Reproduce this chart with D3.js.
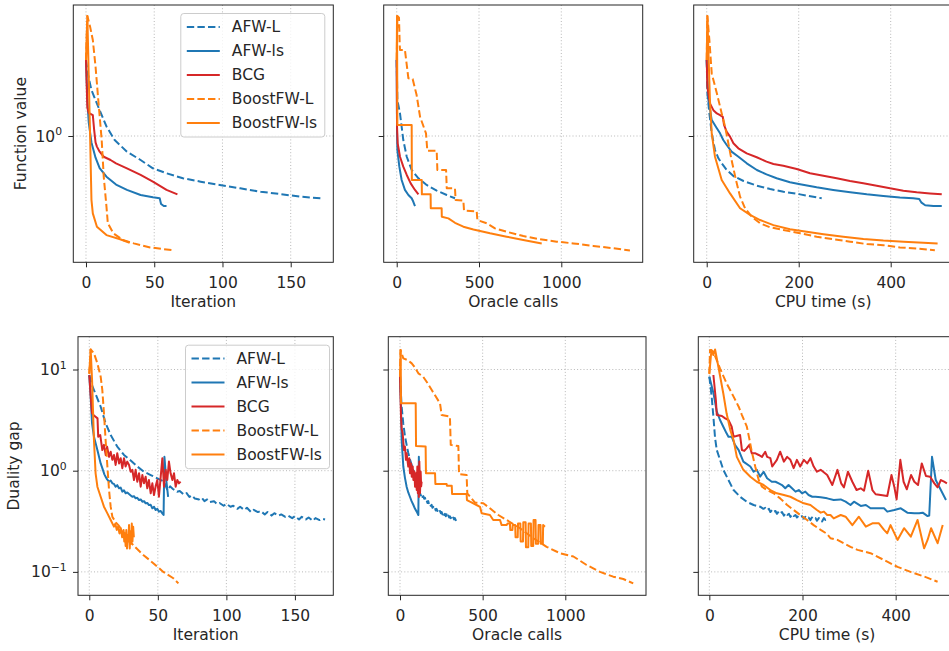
<!DOCTYPE html>
<html lang="en">
<head>
<meta charset="UTF-8" />
<script src="https://d3js.org/d3.v7.min.js"></script>
<title>Boosted FW convergence</title>
<style>
  body { margin: 0; background: #fff; }
  svg { font-family: "DejaVu Sans", sans-serif; }
</style>
</head>
<body>
<svg id="fig" width="949" height="651"></svg>
<script>
// legend order, also drawing order
const methods = ["AFW-L", "AFW-ls", "BCG", "BoostFW-L", "BoostFW-ls"];

// ---- function value vs iteration
const fvIterAFWL = [[0,3.49],[1,2.88],[4,2.13],[10,1.53],[15,1.17],[21,0.936],[30,0.773],[40,0.674],[49,0.588],[59,0.542],[71,0.499],[84,0.472],[98,0.447],[113,0.423],[128,0.4],[142,0.385],[157,0.369],[172,0.359]];
const fvIterAFWls = [[0,3.49],[1,1.81],[2,1.25],[4,0.9],[7,0.7],[10,0.59],[15,0.512],[22,0.45],[30,0.412],[40,0.379],[49,0.365],[54,0.359],[55,0.327],[57,0.316],[59,0.316]];
const fvIterBCG = [[0,3.49],[1,1.6],[2,1.46],[5,1.41],[6,1.1],[7,0.9],[8,0.84],[10,0.773],[13,0.711],[18,0.674],[22,0.638],[30,0.588],[40,0.527],[49,0.472],[59,0.412],[67,0.383]];
const fvIterBoostL = [[0,3.49],[1,7.2],[3,6.04],[5,4.85],[7,3.13],[9,1.81],[11.5,0.936],[13,0.512],[15,0.313],[16,0.238],[20,0.202],[27,0.181],[35,0.171],[47,0.16],[63,0.153]];
const fvIterBoostLs = [[0,3.49],[1,7.2],[2,2.7],[3,1.0],[4,0.35],[5,0.28],[8,0.225],[15,0.196],[25,0.183],[32,0.173]];

// ---- function value vs oracle calls
const fvCallsAFWL = [[0,3.49],[4,1.81],[20,1.45],[40,0.936],[61,0.711],[91,0.572],[132,0.499],[182,0.447],[243,0.407],[304,0.379],[354,0.359]];
const fvCallsAFWls = [[0,3.49],[2,1.045],[4,0.794],[16,0.604],[30,0.485],[50,0.412],[71,0.379],[91,0.359],[101,0.339],[111,0.316]];
const fvCallsBCG = [[0,3.49],[2,1.17],[6,0.887],[20,0.711],[40,0.604],[61,0.527],[85,0.459],[111,0.412],[132,0.383]];
const fvCallsBoostL = [[0,3.49],[4,7.2],[14,7.0],[18,4.6],[20,4.11],[50,4.11],[71,2.58],[97,2.55],[121,1.96],[142,1.37],[178,1.045],[186,0.785],[243,0.785],[247,0.572],[300,0.572],[304,0.423],[354,0.423],[358,0.349],[405,0.345],[409,0.293],[486,0.29],[490,0.251],[547,0.238],[597,0.219],[668,0.207],[769,0.193],[871,0.183],[972,0.176],[1073,0.171],[1194,0.164],[1316,0.158],[1417,0.152]];
const fvCallsBoostLs = [[0,3.49],[2,7.2],[4,1.2],[91,1.2],[92,0.485],[152,0.485],[153,0.383],[206,0.383],[207,0.305],[273,0.305],[274,0.265],[314,0.258],[354,0.24],[405,0.225],[466,0.215],[567,0.202],[668,0.191],[769,0.181],[881,0.171]];

// ---- function value vs CPU time
const fvTimeAFWL = [[0,3.49],[1.4,2.02],[5.8,1.45],[10.9,1.045],[18,0.794],[25.4,0.693],[32.6,0.638],[43.5,0.572],[58,0.518],[80,0.477],[109,0.442],[138,0.418],[167,0.4],[203,0.383],[250,0.359]];
const fvTimeAFWls = [[0,3.49],[1.4,2.65],[3.6,1.81],[10.9,1.3],[22,1.135],[29,1.045],[36,0.936],[43.5,0.863],[54,0.773],[69,0.711],[87,0.638],[109,0.572],[130,0.532],[152,0.499],[181,0.467],[203,0.452],[239,0.43],[275,0.412],[312,0.396],[348,0.383],[384,0.373],[420,0.364],[449,0.359],[462,0.355],[467,0.334],[475,0.32],[493,0.316],[511,0.316]];
const fvTimeBCG = [[0,3.49],[1.4,2.25],[7,1.71],[14.5,1.53],[22,1.45],[29,1.41],[35,1.37],[37.6,1.2],[43.5,1.07],[50.7,0.99],[58,0.887],[68.7,0.817],[87,0.752],[108.7,0.705],[130,0.656],[145,0.631],[166.5,0.614],[195.7,0.581],[224.6,0.542],[253.6,0.521],[282.6,0.499],[311.5,0.477],[340.4,0.459],[369.6,0.442],[398.5,0.423],[427.5,0.407],[456.5,0.396],[485.4,0.389],[511,0.383]];
const fvTimeBoostL = [[0,3.49],[1.4,7.2],[5.8,4.85],[10.9,2.8],[22,2.02],[32.6,1.45],[39.9,1.17],[47,0.887],[54,0.674],[63.6,0.485],[72.5,0.369],[83.3,0.305],[97.8,0.265],[116,0.238],[137.7,0.223],[166.7,0.213],[203,0.202],[239,0.191],[275,0.183],[312,0.176],[348,0.169],[384,0.166],[420,0.16],[456.5,0.157],[496,0.153]];
const fvTimeBoostLs = [[0,3.49],[1.4,7.2],[3.6,4.11],[7,1.81],[10.9,1.045],[18,0.711],[32.6,0.485],[50.7,0.389],[72.5,0.305],[94.3,0.273],[116,0.251],[145,0.231],[181,0.216],[217.5,0.207],[254,0.199],[297,0.191],[340.6,0.184],[384,0.179],[428,0.176],[471,0.173],[502,0.171]];

// ---- duality gap vs iteration
const gapIterAFWL = [[0,8.8],[2,7],[3.4,6.27],[8.3,4.29],[11.9,2.94],[15.6,2.25],[20.4,1.73],[25.3,1.43],[30.2,1.26],[35,1.1],[39.9,0.977],[44.8,0.906],[49.6,0.841],[54.5,0.78],[57,0.64],[59,0.7],[61,0.66],[64,0.62],[66,0.63],[69,0.58],[71,0.6],[73,0.55],[75,0.57],[77,0.53],[80,0.52],[82,0.54],[84,0.5],[86,0.52],[88,0.49],[91,0.5],[93,0.47],[95,0.48],[98,0.45],[100,0.47],[103,0.44],[105,0.45],[108,0.42],[110,0.44],[113,0.41],[115,0.43],[118,0.39],[120,0.41],[123,0.39],[125,0.4],[128,0.37],[130,0.39],[133,0.36],[135,0.38],[138,0.36],[140,0.37],[143,0.35],[145,0.36],[148,0.34],[150,0.355],[153,0.33],[155,0.35],[158,0.33],[160,0.345],[163,0.32],[165,0.34],[168,0.325],[170,0.335],[172,0.33]];
const gapIterAFWls = [[0,8.8],[1,5.4],[2,2.94],[3.4,2.17],[5.9,1.6],[8.3,1.18],[9.5,1.06],[11,0.92],[11.9,0.873],[13,0.82],[14.4,0.778],[15.6,0.8],[16.8,0.75],[18,0.74],[19.2,0.695],[20.4,0.72],[21.7,0.67],[22.9,0.68],[24.1,0.621],[25.3,0.64],[26.5,0.598],[27.7,0.61],[29,0.588],[30.2,0.57],[31.4,0.553],[32.6,0.56],[33.8,0.533],[35,0.54],[36.3,0.513],[37.5,0.52],[38.7,0.494],[40,0.5],[41.1,0.476],[42.3,0.48],[43.5,0.458],[44.8,0.46],[46,0.425],[47.2,0.44],[48.4,0.409],[49.6,0.42],[50.8,0.394],[52,0.4],[53.3,0.379],[54.2,0.365],[54.8,1.37],[56.2,0.8],[57.5,0.55]];
const gapIterBCG = [[0,8.8],[1,5.5],[2,3.7],[3,3.55],[6,3.29],[6.5,2.17],[8,2.25],[9.5,1.6],[10.7,1.8],[12,1.43],[13,1.73],[14.4,1.37],[15.6,1.54],[16.8,1.28],[18,1.43],[19.2,1.14],[20.4,1.49],[21.7,1.18],[22.9,1.33],[24.1,1.06],[25.3,1.33],[26.5,1.1],[27.7,1.23],[29,1.14],[30.2,0.977],[31.4,1.02],[32.6,0.809],[33.8,1.02],[35,0.778],[36.3,0.942],[37.5,0.695],[38.7,0.906],[39.9,0.75],[41.1,0.873],[42.3,0.67],[43.5,0.809],[44.8,0.598],[46,0.75],[47.2,0.575],[48.4,0.7],[49.6,0.809],[50.8,0.553],[52.1,0.873],[53.3,1.33],[54.5,0.695],[55.7,1.02],[56.9,0.809],[58.1,1.23],[59.3,0.942],[60.6,0.809],[61.8,0.942],[63,0.695],[64.2,0.809],[65.4,0.75],[66.6,0.78]];
const gapIterBoostL = [[0,9],[1,15.8],[3.4,14.5],[5.9,11.5],[8.3,8.49],[9.5,6.27],[10.7,3.69],[11.9,2.01],[13.2,1.1],[14.4,0.644],[15.6,0.441],[16.8,0.351],[19.2,0.31],[21.2,0.29],[26,0.235],[32,0.184],[39.4,0.147],[46.7,0.122],[54,0.1],[61.3,0.0865],[65,0.077]];
const gapIterBoostLs = [[0,9.17],[1,15.8],[2,8],[3.4,2.01],[4.6,0.942],[5.9,0.695],[8.3,0.553],[10.7,0.441],[13.2,0.379],[15.6,0.326],[18,0.28],[19,0.3],[20,0.26],[21,0.28],[22,0.24],[23,0.27],[24,0.22],[25,0.26],[25.5,0.2],[26,0.24],[26.5,0.18],[27,0.26],[27.5,0.17],[28,0.23],[28.5,0.2],[29,0.29],[29.5,0.17],[30,0.25],[30.5,0.19],[31,0.3],[31.5,0.2],[32,0.28],[32.5,0.22]];

// ---- duality gap vs oracle calls
const gapCallsAFWL = [[0,8.8],[4,6.5],[10,4.3],[20,2.9],[30,2.2],[40,1.8],[50,1.5],[60,1.3],[70,1.15],[81,1.0],[91,0.9],[101,0.83],[111,0.78],[117,0.62],[121,0.6],[126,0.57],[131,0.59],[136,0.55],[141,0.56],[146,0.53],[151,0.54],[156,0.5],[161,0.51],[166,0.48],[171,0.5],[176,0.46],[181,0.47],[186,0.45],[191,0.46],[196,0.43],[201,0.44],[206,0.42],[211,0.43],[216,0.405],[221,0.42],[226,0.4],[231,0.41],[236,0.39],[242,0.4],[247,0.38],[252,0.39],[257,0.37],[262,0.385],[267,0.365],[272,0.375],[277,0.355],[282,0.37],[287,0.35],[292,0.36],[297,0.345],[302,0.355],[307,0.34],[312,0.35],[317,0.335],[322,0.345],[327,0.33],[332,0.34],[337,0.325],[343,0.335]];
const gapCallsAFWls = [[0,8.8],[6,4.3],[10,2.0],[20,1.1],[30,0.85],[40,0.695],[50,0.61],[60,0.553],[70,0.5],[81,0.458],[91,0.42],[101,0.394],[111,0.365],[114,1.37],[118,0.7],[121,0.6]];
const gapCallsBCG = [[0,8.8],[6,3.5],[10,2.6],[16,2.34],[24,1.6],[30,1.73],[36,1.28],[40,1.49],[50,1.1],[56.5,1.33],[60.5,0.942],[67,1.18],[71,0.873],[77,1.1],[81,0.809],[87,0.98],[91,0.695],[97,0.942],[101,0.644],[105,1.1],[108,0.6],[111,0.75],[114,0.55],[117,1.23],[121,0.598],[125,0.977],[128,0.7],[131,0.78]];
const gapCallsBoostL = [[0,8.5],[3,15.6],[20,12.9],[50,12.3],[71,11.5],[90,10.5],[111,9.17],[140,8.5],[161,7.57],[192,6.27],[242,4.63],[252,3.55],[302,3.42],[307,1.8],[353,1.75],[357,0.927],[403,0.906],[407,0.598],[454,0.483],[504,0.476],[544,0.425],[595,0.365],[645,0.326],[726,0.27],[807,0.215],[887,0.177],[968,0.153],[1049,0.142],[1129,0.117],[1210,0.1],[1290,0.0897],[1351,0.085],[1411,0.077]];
const gapCallsBoostLs = [[0,8.5],[4,15.6],[6,4.63],[95,4.63],[97,1.75],[155,1.73],[157,0.942],[212,0.942],[214,0.74],[282,0.74],[284,0.71],[313,0.71],[315,0.59],[403,0.59],[405,0.513],[423,0.494],[463,0.458],[484,0.44],[494,0.38],[544,0.365],[564,0.326],[605,0.326],[615,0.29],[645,0.29],[650,0.3],[665,0.3],[667,0.26],[680,0.26],[682,0.29],[697,0.29],[699,0.22],[712,0.22],[714,0.3],[728,0.3],[730,0.2],[744,0.2],[746,0.31],[760,0.31],[762,0.175],[776,0.175],[778,0.3],[792,0.3],[794,0.18],[806,0.18],[808,0.325],[820,0.325],[822,0.19],[836,0.19],[838,0.29],[850,0.29],[852,0.19],[864,0.19],[866,0.29],[877,0.28]];

// ---- duality gap vs CPU time
const gapTimeAFWL = [[0,8.5],[5,5.4],[8.7,3.42],[12.3,2.1],[16,1.6],[23,1.28],[30,1.02],[41,0.809],[52,0.644],[66,0.553],[80,0.494],[95,0.458],[109,0.441],[116,0.42],[120,0.43],[124,0.409],[128,0.42],[131,0.39],[135,0.41],[138,0.394],[142,0.4],[145,0.375],[149,0.395],[152,0.379],[156,0.39],[160,0.36],[164,0.38],[167,0.365],[171,0.375],[174,0.35],[178,0.37],[181,0.356],[185,0.365],[188,0.345],[192,0.36],[195,0.351],[199,0.355],[203,0.335],[206,0.35],[210,0.338],[213,0.345],[217,0.325],[220,0.345],[224,0.333],[228,0.34],[231,0.32],[235,0.34],[239,0.331],[242,0.315],[246,0.34],[249,0.326],[251,0.33]];
const gapTimeAFWls = [[0,8.5],[9,5.8],[16,3.83],[23,3.17],[30,2.72],[37,2.34],[41,2.17],[48,2.17],[55,1.8],[63,1.6],[73,1.23],[88,1.1],[95,0.977],[102,1.02],[109,0.873],[116.5,0.977],[124,0.841],[134,0.778],[142,0.778],[149,0.75],[156,0.722],[163,0.67],[170,0.722],[177.5,0.67],[185,0.621],[192,0.644],[199,0.598],[206,0.621],[213,0.575],[221,0.553],[228,0.553],[239,0.546],[253,0.533],[267,0.513],[282,0.52],[292.5,0.494],[303,0.458],[310.5,0.494],[325,0.449],[336,0.458],[346,0.425],[361,0.425],[375,0.425],[382,0.394],[397,0.409],[411,0.425],[425,0.385],[440,0.379],[450.5,0.379],[458,0.385],[468.5,0.356],[472,0.36],[478,1.37],[486,0.809],[497,0.644],[508,0.513]];
const gapTimeBCG = [[8.7,8.83],[14,5.0],[16,3.55],[27,3.47],[34,3.29],[41,3.17],[48,2.72],[52,2.17],[58,2.2],[66,2.25],[70,1.6],[75,1.57],[80,1.66],[86,1.8],[91,1.49],[98,1.49],[106,1.43],[113,1.37],[120,1.54],[124,1.37],[131,1.33],[135,1.1],[145,1.28],[152,1.54],[160,1.23],[167,1.37],[174,1.28],[181,1.06],[188,1.28],[195,1.1],[203,1.28],[210,1.18],[217,1.33],[224,1.1],[231,0.977],[239,1.02],[253,0.906],[264,0.722],[275,1.02],[283,0.75],[289,0.685],[297.5,0.977],[307,0.778],[316,0.644],[325,0.67],[332,0.634],[341,1.0],[350,0.644],[357,0.585],[368,0.575],[382,0.562],[391,0.906],[397,0.695],[402,0.52],[410,1.28],[417,0.778],[424,0.655],[433,0.906],[440,0.778],[448,0.722],[456,1.18],[465,0.886],[474,0.873],[483,0.75],[490,0.685],[497,0.809],[504,0.778],[510,0.75]];
const gapTimeBoostL = [[0,9],[1.5,15.6],[8.7,15],[23,10.2],[37,7.3],[52,5.4],[63,4.29],[70,3.55],[80.5,2.72],[86,2.05],[91,1.55],[98.5,1.1],[106,0.809],[113,0.695],[124,0.644],[138,0.598],[152,0.533],[167,0.458],[181,0.409],[195,0.365],[210,0.326],[224,0.29],[239,0.26],[253,0.237],[260,0.215],[275,0.207],[303,0.177],[318,0.165],[346,0.153],[375,0.131],[404,0.112],[432,0.1],[461,0.09],[490,0.08]];
const gapTimeBoostLs = [[0,9.17],[4.5,15.6],[8.7,13.9],[12.3,15.8],[19.5,10.6],[30,5.8],[37,3.69],[45,2.52],[52,2.01],[59,1.37],[73,1.02],[88,0.873],[102,0.778],[116.5,0.722],[131,0.644],[145,0.598],[160,0.575],[174,0.553],[188,0.513],[203,0.476],[217,0.458],[231,0.409],[239,0.385],[246,0.394],[253,0.365],[260,0.365],[267,0.338],[282,0.365],[292.5,0.351],[307,0.29],[321,0.351],[336,0.28],[350,0.302],[364,0.302],[375,0.26],[382,0.241],[389,0.29],[404,0.207],[418,0.27],[432.5,0.223],[447,0.326],[461,0.171],[468.5,0.207],[476,0.27],[490,0.192],[501,0.29]];

// tick values
const iterTicks = [0, 50, 100, 150];
const callTicks = [0, 500, 1000];
const timeTicks = [0, 200, 400];
const fvTicks = [1];
const gapTicks = [0.1, 1, 10];

const colors = ["#1f77b4", "#1f77b4", "#d62728", "#ff7f0e", "#ff7f0e"];
const dashed = [true, false, false, true, false];

const fvYDom = [0.1253, 8.625];
const gapYDom = [0.0587, 21.1];

const panels = [
  { left: 73.3, top: 5, width: 260, height: 257.3, xDom: [-9.3, 181.2], yDom: fvYDom, xTicks: iterTicks, yTicks: fvTicks, xLabel: "Iteration", yLabel: "Function value", yLabelX: 25.5, data: [fvIterAFWL, fvIterAFWls, fvIterBCG, fvIterBoostL, fvIterBoostLs], legend: true },
  { left: 383.7, top: 5, width: 259, height: 257.3, xDom: [-79, 1494.5], yDom: fvYDom, xTicks: callTicks, yTicks: fvTicks, xLabel: "Oracle calls", data: [fvCallsAFWL, fvCallsAFWls, fvCallsBCG, fvCallsBoostL, fvCallsBoostLs] },
  { left: 693.7, top: 5, width: 259, height: 257.3, xDom: [-28.3, 534.8], yDom: fvYDom, xTicks: timeTicks, yTicks: fvTicks, xLabel: "CPU time (s)", data: [fvTimeAFWL, fvTimeAFWls, fvTimeBCG, fvTimeBoostL, fvTimeBoostLs] },
  { left: 78, top: 336.7, width: 255.3, height: 258.6, xDom: [-8.24, 178], yDom: gapYDom, xTicks: iterTicks, yTicks: gapTicks, xLabel: "Iteration", yLabel: "Duality gap", yLabelX: 19, data: [gapIterAFWL, gapIterAFWls, gapIterBCG, gapIterBoostL, gapIterBoostLs], legend: true },
  { left: 388.3, top: 336.7, width: 257.7, height: 258.6, xDom: [-70.8, 1488.2], yDom: gapYDom, xTicks: callTicks, yTicks: gapTicks, xLabel: "Oracle calls", data: [gapCallsAFWL, gapCallsAFWls, gapCallsBCG, gapCallsBoostL, gapCallsBoostLs] },
  { left: 698.3, top: 336.7, width: 257.7, height: 258.6, xDom: [-23.7, 529.5], yDom: gapYDom, xTicks: timeTicks, yTicks: gapTicks, xLabel: "CPU time (s)", data: [gapTimeAFWL, gapTimeAFWls, gapTimeBCG, gapTimeBoostL, gapTimeBoostLs] }
];

const svg = d3.select("#fig");
const gridColor = "#b0b0b0";
const inkColor = "#262626";
const fs = 15.5;

panels.forEach((p, pi) => {
  const x = d3.scaleLinear().domain(p.xDom).range([0, p.width]);
  const y = d3.scaleLog().domain(p.yDom).range([p.height, 0]);
  const g = svg.append("g").attr("transform", `translate(${p.left},${p.top})`);

  g.append("clipPath").attr("id", "clip" + pi)
    .append("rect").attr("width", p.width).attr("height", p.height);

  // dotted grid
  const grid = g.append("g").attr("stroke", gridColor).attr("stroke-width", 0.9).attr("stroke-dasharray", "1,2.2");
  grid.selectAll("line.gx").data(p.xTicks).join("line").attr("class", "gx")
    .attr("x1", d => x(d)).attr("x2", d => x(d)).attr("y1", 0).attr("y2", p.height);
  grid.selectAll("line.gy").data(p.yTicks).join("line").attr("class", "gy")
    .attr("y1", d => y(d)).attr("y2", d => y(d)).attr("x1", 0).attr("x2", p.width);

  // series
  const line = d3.line().x(d => x(d[0])).y(d => y(d[1]));
  g.append("g").attr("clip-path", `url(#clip${pi})`)
    .selectAll("path").data(p.data).join("path")
    .attr("d", line)
    .attr("fill", "none")
    .attr("stroke", (d, i) => colors[i])
    .attr("stroke-width", 2)
    .attr("stroke-linejoin", "round")
    .attr("stroke-dasharray", (d, i) => dashed[i] ? "7.4,3.2" : null);

  // spines
  g.append("rect").attr("width", p.width).attr("height", p.height)
    .attr("fill", "none").attr("stroke", inkColor).attr("stroke-width", 1);

  // x axis
  const xa = g.append("g").attr("transform", `translate(0,${p.height})`)
    .call(d3.axisBottom(x).tickValues(p.xTicks).tickSize(5).tickPadding(10).tickFormat(d3.format("d")));
  xa.select(".domain").remove();
  xa.attr("font-size", null).attr("font-family", null);
  xa.selectAll("line").attr("stroke", inkColor);
  xa.selectAll("text").attr("font-size", fs).attr("fill", inkColor);

  // y axis ticks (labels only on first column)
  const ya = g.append("g").call(d3.axisLeft(y).tickValues(p.yTicks).tickSize(5).tickFormat(""));
  ya.select(".domain").remove();
  ya.selectAll("line").attr("stroke", inkColor);

  if (p.yLabel) {
    p.yTicks.forEach(v => {
      const e = Math.round(Math.log10(v));
      const t = g.append("text").attr("x", -11.3).attr("y", y(v) + 5.5)
        .attr("text-anchor", "end").attr("font-size", fs).attr("fill", inkColor);
      t.append("tspan").text("10");
      t.append("tspan").attr("font-size", 10.8).attr("dy", -6.5).text(e < 0 ? "\u2212" + (-e) : String(e));
    });
    svg.append("text")
      .attr("transform", `translate(${p.yLabelX},${p.top + p.height / 2}) rotate(-90)`)
      .attr("text-anchor", "middle").attr("font-size", fs).attr("fill", inkColor)
      .text(p.yLabel);
  }

  g.append("text").attr("x", p.width / 2).attr("y", p.height + 45)
    .attr("text-anchor", "middle").attr("font-size", fs).attr("fill", inkColor)
    .text(p.xLabel);

  if (p.legend) {
    const lg = g.append("g").attr("transform", "translate(107.5,8.5)");
    lg.append("rect").attr("width", 144).attr("height", 123.5).attr("rx", 3)
      .attr("fill", "#fff").attr("fill-opacity", 0.8).attr("stroke", "#cccccc");
    const rows = lg.selectAll("g.row").data(methods).join("g").attr("class", "row")
      .attr("transform", (d, i) => `translate(0,${13.4 + i * 24})`);
    rows.append("line").attr("x1", 6).attr("x2", 39)
      .attr("stroke", (d, i) => colors[i]).attr("stroke-width", 2)
      .attr("stroke-dasharray", (d, i) => dashed[i] ? "7.4,3.2" : null);
    rows.append("text").attr("x", 51).attr("y", 5.5)
      .attr("font-size", fs).attr("fill", inkColor).text(d => d);
  }
});
</script>
</body>
</html>
